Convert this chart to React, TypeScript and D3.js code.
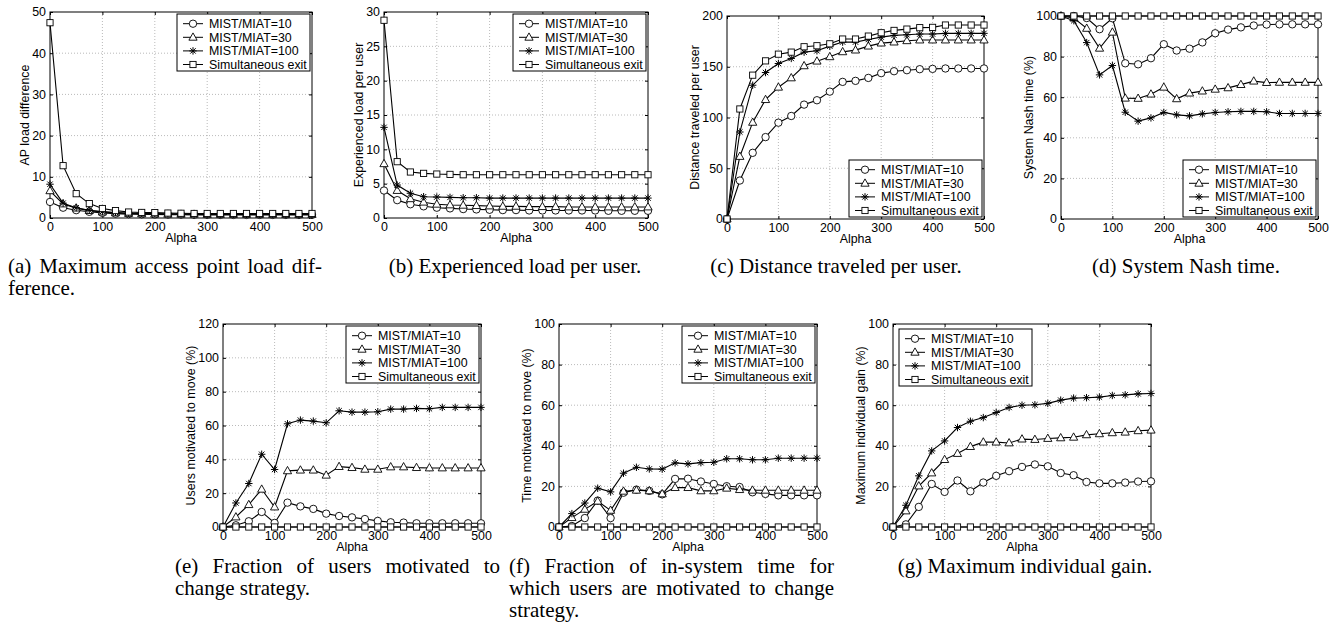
import { useEffect, useRef } from 'react'
import * as d3 from 'd3'

const SANS = "'Liberation Sans', Arial, Helvetica, sans-serif"
const SERIF = "'Liberation Serif', 'Times New Roman', serif"

const alpha = [0, 25, 50, 75, 100, 125, 150, 175, 200, 225, 250, 275, 300, 325, 350, 375, 400, 425, 450, 475, 500]
const xTicks = [0, 100, 200, 300, 400, 500]
const seriesNames = ['MIST/MIAT=10', 'MIST/MIAT=30', 'MIST/MIAT=100', 'Simultaneous exit']
const markerKinds = ['circle', 'triangle', 'star', 'square']

// (a) maximum AP load difference
const apDiff10 = [3.9, 2.5, 1.9, 1.5, 1.25, 1.05, 0.95, 0.9, 0.85, 0.8, 0.8, 0.75, 0.75, 0.75, 0.75, 0.75, 0.75, 0.75, 0.75, 0.75, 0.75]
const apDiff30 = [6.6, 3.4, 2.4, 1.8, 1.45, 1.25, 1.1, 1.0, 0.95, 0.9, 0.9, 0.9, 0.85, 0.85, 0.85, 0.85, 0.85, 0.85, 0.85, 0.85, 0.85]
const apDiff100 = [8.2, 3.6, 2.5, 1.9, 1.55, 1.35, 1.2, 1.1, 1.05, 1.0, 1.0, 0.95, 0.95, 0.95, 0.95, 0.95, 0.95, 0.95, 0.95, 0.95, 0.95]
const apDiffSim = [47.4, 12.7, 5.9, 3.5, 2.3, 1.8, 1.45, 1.35, 1.3, 1.2, 1.15, 1.1, 1.1, 1.1, 1.1, 1.1, 1.1, 1.1, 1.1, 1.1, 1.1]
const apDiffTicks = [0, 10, 20, 30, 40, 50]

// (b) experienced load per user
const load10 = [4.0, 2.6, 2.0, 1.7, 1.5, 1.4, 1.3, 1.25, 1.2, 1.15, 1.15, 1.1, 1.1, 1.1, 1.1, 1.1, 1.1, 1.05, 1.05, 1.05, 1.05]
const load30 = [7.9, 4.0, 2.8, 2.3, 2.0, 1.9, 1.85, 1.8, 1.75, 1.7, 1.7, 1.65, 1.65, 1.65, 1.6, 1.6, 1.6, 1.6, 1.6, 1.6, 1.6]
const load100 = [13.2, 4.8, 3.6, 3.1, 3.05, 3.0, 2.95, 2.95, 2.9, 2.9, 2.9, 2.9, 2.9, 2.9, 2.9, 2.9, 2.9, 2.9, 2.9, 2.9, 2.9]
const loadSim = [28.8, 8.2, 6.7, 6.5, 6.4, 6.35, 6.3, 6.3, 6.3, 6.3, 6.3, 6.3, 6.3, 6.3, 6.3, 6.3, 6.3, 6.3, 6.3, 6.3, 6.3]
const loadTicks = [0, 5, 10, 15, 20, 25, 30]

// (c) distance traveled per user
const dist10 = [0, 37.9, 65.2, 80.7, 94.9, 101.5, 112.7, 117, 125.5, 135.1, 136.1, 139, 143.7, 145.6, 146.6, 147.6, 147.9, 148.3, 148.3, 148.3, 148.3]
const dist30 = [0, 61.6, 95.2, 117.6, 129.8, 139, 150.9, 155.5, 159.8, 164.7, 166.4, 170.3, 173.3, 174.3, 175.6, 176.3, 176.3, 176.3, 176.3, 176.3, 176.3]
const dist100 = [0, 85.7, 131.8, 144.3, 153.2, 158.2, 164.4, 165.7, 170.3, 174.3, 174.3, 176.9, 179.2, 180.9, 181.5, 182.2, 182.2, 182.9, 182.9, 182.9, 182.9]
const distSim = [0, 108.4, 141.7, 155.8, 162.4, 164.4, 169.7, 170.7, 172.6, 177.3, 177.3, 180.2, 183.5, 185.8, 187.1, 188.5, 188.8, 191.1, 191.1, 191.1, 191.1]
const distTicks = [0, 50, 100, 150, 200]

// (d) system Nash time (%)
const nash10 = [100, 100, 99, 93.5, 98.9, 76.7, 76.2, 79.2, 86.1, 83, 83.9, 87, 91.5, 93.3, 94.4, 95.3, 95.8, 95.9, 95.9, 95.9, 95.9]
const nash30 = [100, 99, 93.9, 84.1, 92, 59.5, 59.4, 61.5, 64.9, 59.2, 62, 63, 63.9, 64.6, 66.2, 67.9, 67.2, 67.3, 67.3, 67.3, 67.3]
const nash100 = [100, 97.7, 86.9, 71, 75.6, 52.6, 48.2, 49.8, 52.5, 51.3, 50.8, 51.8, 52.5, 52.8, 53, 53, 52.8, 52, 52, 52, 52]
const nashSim = [100, 100, 100, 100, 100, 100, 100, 100, 100, 100, 100, 100, 100, 100, 100, 100, 100, 100, 100, 100, 100]
const pctTicks = [0, 20, 40, 60, 80, 100]

// (e) users motivated to move (%)
const users10 = [0, 1, 3.4, 8.9, 2.4, 14.4, 12.2, 10.7, 7.9, 6.5, 5.7, 4.7, 3.6, 2.8, 2.6, 2.2, 2.2, 2.2, 2.2, 2.2, 2.2]
const users30 = [0, 5.9, 13.2, 22.3, 11.8, 33.2, 33.6, 33.6, 30.6, 35.7, 35.1, 34.1, 34.1, 35.5, 35.5, 35.1, 34.9, 34.9, 34.9, 34.9, 34.9]
const users100 = [0, 14.2, 25.7, 43, 34, 61, 63.2, 62.6, 61.6, 68.7, 67.9, 67.9, 68.1, 69.7, 69.7, 70.1, 69.9, 70.7, 70.7, 70.7, 70.7]
const usersSim = [0, 0, 0, 0, 0, 0, 0, 0, 0, 0, 0, 0, 0, 0, 0, 0, 0, 0, 0, 0, 0]
const usersTicks = [0, 20, 40, 60, 80, 100, 120]

// (f) time motivated to move (%)
const time10 = [0, 0.5, 4.4, 13, 4.4, 16.9, 18.4, 17.8, 16.1, 23.7, 23.8, 22.4, 21.2, 20.1, 19.7, 17.1, 16.3, 15.6, 15.6, 15.6, 15.6]
const time30 = [0, 4.6, 8.7, 12.7, 8.2, 17.6, 18.1, 17.8, 16.3, 19.4, 19.4, 17.8, 17.8, 19.1, 18.4, 18.1, 18.1, 18.1, 18.1, 18.1, 18.1]
const time100 = [0, 6.6, 11.8, 19.1, 17.3, 26.5, 29.4, 28.6, 28.5, 31.6, 31.1, 31.7, 31.9, 33.6, 33.6, 33.1, 33.1, 33.9, 33.9, 33.9, 33.9]
const timeSim = [0, 0, 0, 0, 0, 0, 0, 0, 0, 0, 0, 0, 0, 0, 0, 0, 0, 0, 0, 0, 0]

// (g) maximum individual gain (%)
const gain10 = [0, 1.3, 9.9, 21.2, 17.3, 22.9, 17.6, 21.9, 25.2, 27.5, 29.6, 30.8, 29.9, 26.6, 25.5, 22.2, 21.5, 21.5, 21.9, 22.4, 22.5]
const gain30 = [0, 7.9, 20.2, 26.6, 33.2, 36.2, 39.6, 41.8, 41.8, 41.4, 43.3, 43.1, 43.6, 43.9, 44.2, 45.4, 45.9, 46.4, 46.7, 47.4, 47.7]
const gain100 = [0, 10.7, 25.2, 37.5, 42.4, 49, 52.1, 53.9, 56.4, 58.9, 60, 60.2, 60.9, 62.5, 63.5, 63.7, 64, 64.8, 65.1, 65.6, 65.8]
const gainSim = [0, 0, 0, 0, 0, 0, 0, 0, 0, 0, 0, 0, 0, 0, 0, 0, 0, 0, 0, 0, 0]

const captionA = ['(a) Maximum access point load dif-', 'ference.']
const captionB = ['(b) Experienced load per user.']
const captionC = ['(c) Distance traveled per user.']
const captionD = ['(d) System Nash time.']
const captionE = ['(e) Fraction of users motivated to', 'change strategy.']
const captionF = ['(f) Fraction of in-system time for', 'which users are motivated to change', 'strategy.']
const captionG = ['(g) Maximum individual gain.']

const panels = [
  { key: 'a', yLabel: 'AP load difference', yTicks: apDiffTicks, series: [apDiff10, apDiff30, apDiff100, apDiffSim], legend: 'tr' },
  { key: 'b', yLabel: 'Experienced load per user', yTicks: loadTicks, series: [load10, load30, load100, loadSim], legend: 'tr' },
  { key: 'c', yLabel: 'Distance traveled per user', yTicks: distTicks, series: [dist10, dist30, dist100, distSim], legend: 'br' },
  { key: 'd', yLabel: 'System Nash time (%)', yTicks: pctTicks, series: [nash10, nash30, nash100, nashSim], legend: 'br' },
  { key: 'e', yLabel: 'Users motivated to move (%)', yTicks: usersTicks, series: [users10, users30, users100, usersSim], legend: 'tr' },
  { key: 'f', yLabel: 'Time motivated to move (%)', yTicks: pctTicks, series: [time10, time30, time100, timeSim], legend: 'tr' },
  { key: 'g', yLabel: 'Maximum individual gain (%)', yTicks: pctTicks, series: [gain10, gain30, gain100, gainSim], legend: 'tl' },
]

// plot areas in page pixels
const boxes: any = {
  a: { x0: 50, x1: 312, y0: 12, y1: 218 },
  b: { x0: 384, x1: 648, y0: 12, y1: 218 },
  c: { x0: 727, x1: 984, y0: 16, y1: 219 },
  d: { x0: 1061, x1: 1318, y0: 16, y1: 219 },
  e: { x0: 223, x1: 481, y0: 324, y1: 527 },
  f: { x0: 559, x1: 817, y0: 324, y1: 527 },
  g: { x0: 893, x1: 1151, y0: 324, y1: 527 },
}

const captions = [
  { lines: captionA, justify: true, x0: 8, x1: 322, y: 273 },
  { lines: captionB, cx: 515, y: 273 },
  { lines: captionC, cx: 836, y: 273 },
  { lines: captionD, cx: 1186, y: 273 },
  { lines: captionE, justify: true, x0: 175, x1: 500, y: 573 },
  { lines: captionF, justify: true, x0: 509, x1: 834, y: 573 },
  { lines: captionG, cx: 1025, y: 573 },
]

const FS = 12.4

function drawMarker(g: any, kind: string, cx: number, cy: number) {
  if (kind === 'circle') {
    g.append('circle').attr('cx', cx).attr('cy', cy).attr('r', 3.7)
      .attr('fill', '#fff').attr('stroke', '#000').attr('stroke-width', 0.9)
  } else if (kind === 'triangle') {
    g.append('path').attr('d', `M${cx},${cy - 4.4}L${cx + 4.1},${cy + 2.9}L${cx - 4.1},${cy + 2.9}Z`)
      .attr('fill', '#fff').attr('stroke', '#000').attr('stroke-width', 0.9)
  } else if (kind === 'square') {
    g.append('rect').attr('x', cx - 3.1).attr('y', cy - 3.1).attr('width', 6.2).attr('height', 6.2)
      .attr('fill', '#fff').attr('stroke', '#000').attr('stroke-width', 0.9)
  } else {
    const r = 3.7, d = 2.7
    g.append('path')
      .attr('d', `M${cx - r},${cy}H${cx + r}M${cx},${cy - r}V${cy + r}M${cx - d},${cy - d}L${cx + d},${cy + d}M${cx - d},${cy + d}L${cx + d},${cy - d}`)
      .attr('stroke', '#000').attr('stroke-width', 1)
  }
}

function drawPanel(svg: any, p: any) {
  const b = boxes[p.key]
  const yMax = p.yTicks[p.yTicks.length - 1]
  const x = d3.scaleLinear().domain([0, 500]).range([b.x0, b.x1])
  const y = d3.scaleLinear().domain([0, yMax]).range([b.y1, b.y0])
  const g = svg.append('g')

  // dotted grid
  const grid = g.append('g').attr('stroke', '#a8a8a8').attr('stroke-width', 0.8).attr('stroke-dasharray', '1,2')
  xTicks.slice(1, -1).forEach((t) => {
    grid.append('line').attr('x1', x(t)).attr('x2', x(t)).attr('y1', b.y0).attr('y2', b.y1)
  })
  p.yTicks.slice(1, -1).forEach((t: number) => {
    grid.append('line').attr('x1', b.x0).attr('x2', b.x1).attr('y1', y(t)).attr('y2', y(t))
  })

  // axes, ticks pointing inwards on all four sides
  const styleAxis = (ag: any) => {
    ag.select('.domain').remove()
    ag.selectAll('line').attr('stroke', '#000')
    ag.selectAll('text').attr('font-family', SANS).attr('font-size', FS).attr('fill', '#000')
  }
  g.append('g').attr('transform', `translate(0,${b.y1})`)
    .call(d3.axisBottom(x).tickValues(xTicks).tickSize(-3).tickPadding(4)).call(styleAxis)
  g.append('g').attr('transform', `translate(0,${b.y0})`)
    .call(d3.axisTop(x).tickValues(xTicks).tickSize(-3).tickFormat(() => '')).call(styleAxis)
  const left = g.append('g').attr('transform', `translate(${b.x0},0)`)
    .call(d3.axisLeft(y).tickValues(p.yTicks).tickSize(-3).tickPadding(4)).call(styleAxis)
  g.append('g').attr('transform', `translate(${b.x1},0)`)
    .call(d3.axisRight(y).tickValues(p.yTicks).tickSize(-3).tickFormat(() => '')).call(styleAxis)

  g.append('rect').attr('x', b.x0).attr('y', b.y0).attr('width', b.x1 - b.x0).attr('height', b.y1 - b.y0)
    .attr('fill', 'none').attr('stroke', '#000').attr('stroke-width', 1)

  // series
  const line = d3.line<number>().x((_, i) => x(alpha[i])).y((v) => y(v))
  p.series.forEach((vals: number[], si: number) => {
    g.append('path').datum(vals).attr('d', line).attr('fill', 'none').attr('stroke', '#000').attr('stroke-width', 1.1)
    const mg = g.append('g')
    vals.forEach((v, i) => drawMarker(mg, markerKinds[si], x(alpha[i]), y(v)))
  })

  // axis labels
  const lb = left.node().getBBox()
  g.append('text').attr('transform', `translate(${b.x0 + lb.x - 3},${(b.y0 + b.y1) / 2}) rotate(-90)`)
    .attr('text-anchor', 'middle').attr('font-family', SANS).attr('font-size', FS).text(p.yLabel)
  g.append('text').attr('x', (b.x0 + b.x1) / 2).attr('y', b.y1 + 24)
    .attr('text-anchor', 'middle').attr('font-family', SANS).attr('font-size', FS).text('Alpha')

  // legend
  const lw = 133, lh = 57
  let lx = b.x1 - 2 - lw, ly = b.y0 + 2
  if (p.legend === 'br') ly = b.y1 - 2 - lh
  if (p.legend === 'tl') { lx = b.x0 + 6; ly = b.y0 + 5 }
  const leg = g.append('g').attr('transform', `translate(${lx},${ly})`)
  leg.append('rect').attr('width', lw).attr('height', lh).attr('fill', '#fff').attr('stroke', '#000').attr('stroke-width', 1)
  seriesNames.forEach((name, i) => {
    const ry = 9.7 + i * 13.6
    leg.append('line').attr('x1', 6).attr('x2', 26).attr('y1', ry).attr('y2', ry).attr('stroke', '#000')
    drawMarker(leg, markerKinds[i], 16, ry)
    leg.append('text').attr('x', 32).attr('y', ry).attr('dy', '0.36em')
      .attr('font-family', SANS).attr('font-size', FS).text(name)
  })
}

function drawCaption(svg: any, c: any) {
  const g = svg.append('g').attr('font-family', SERIF).attr('font-size', 21).attr('fill', '#000')
  const lineGap = 22
  c.lines.forEach((text: string, i: number) => {
    const ty = c.y + i * lineGap
    if (!c.justify) {
      g.append('text').attr('x', c.cx).attr('y', ty).attr('text-anchor', 'middle').text(text)
      return
    }
    if (i === c.lines.length - 1) {
      g.append('text').attr('x', c.x0).attr('y', ty).text(text)
      return
    }
    const words = text.split(' ')
    const widths = words.map((w) => {
      const t = g.append('text').text(w)
      const len = t.node().getComputedTextLength()
      t.remove()
      return len
    })
    const gap = (c.x1 - c.x0 - d3.sum(widths)) / (words.length - 1)
    let wx = c.x0
    words.forEach((w, j) => {
      g.append('text').attr('x', wx).attr('y', ty).text(w)
      wx += widths[j] + gap
    })
  })
}

export default function App() {
  const svgRef = useRef<SVGSVGElement>(null)

  useEffect(() => {
    document.body.style.margin = '0'
    const svg = d3.select(svgRef.current)
    svg.selectAll('*').remove()
    svg.append('rect').attr('width', 1337).attr('height', 637).attr('fill', '#fff')
    panels.forEach((p) => drawPanel(svg, p))
    captions.forEach((c) => drawCaption(svg, c))
  }, [])

  return <svg ref={svgRef} width={1337} height={637} style={{ display: 'block' }} />
}
